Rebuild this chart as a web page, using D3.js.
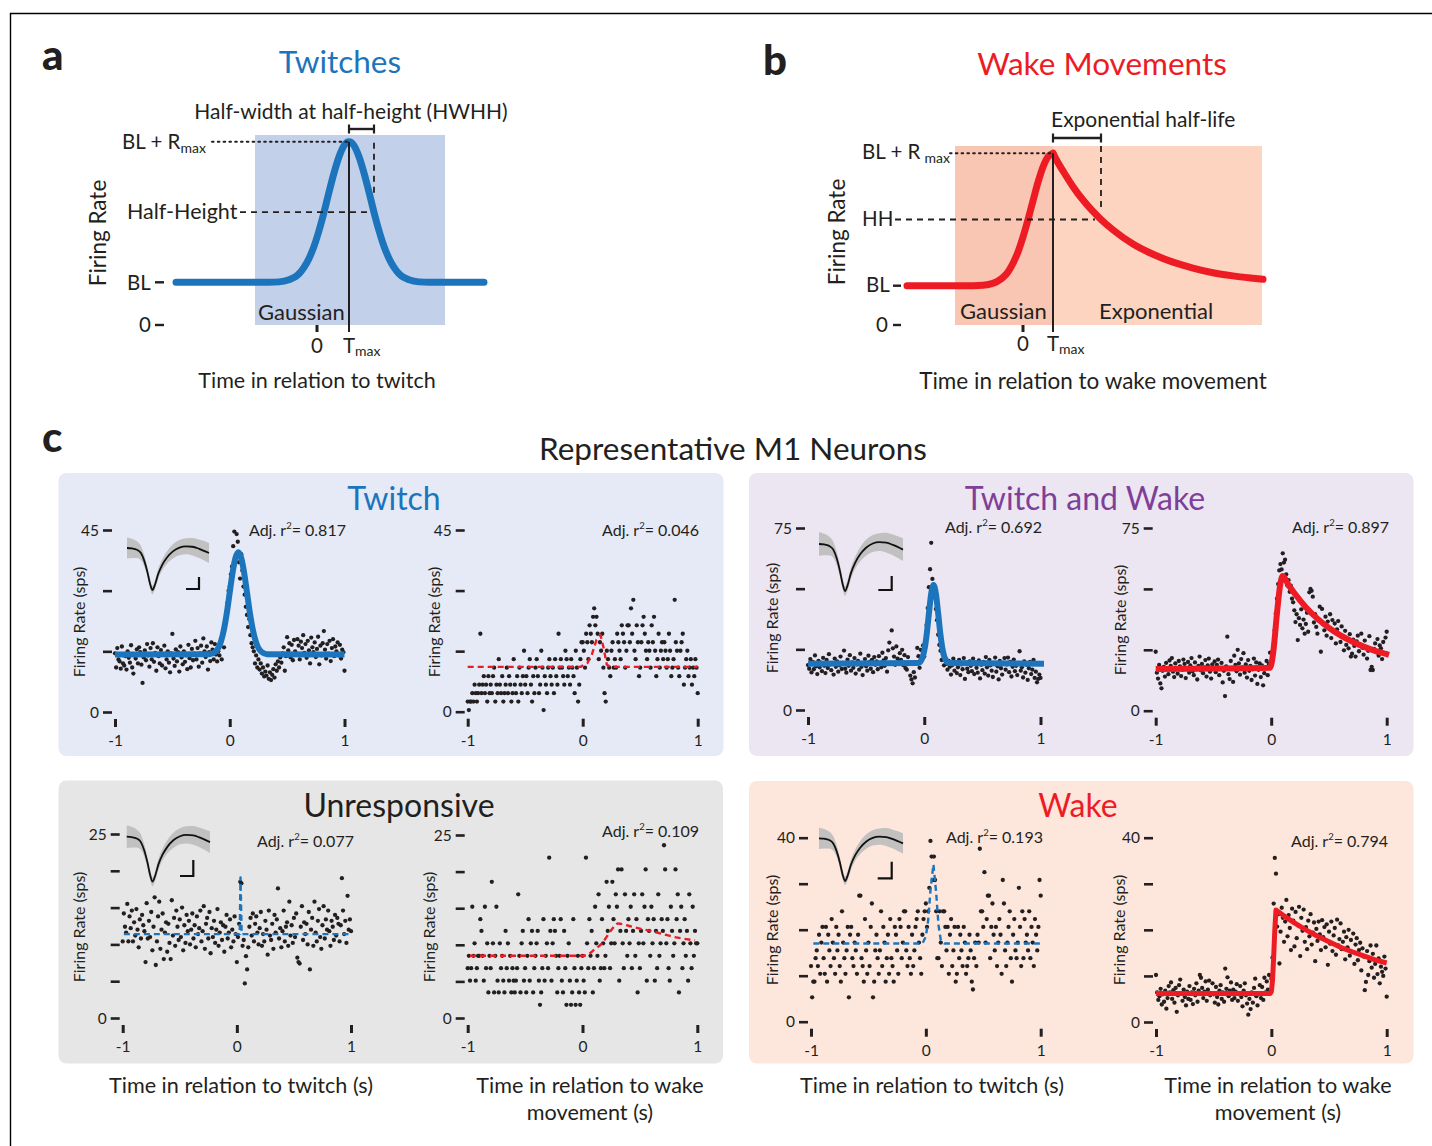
<!DOCTYPE html>
<html><head><meta charset="utf-8">
<script src="https://cdn.jsdelivr.net/npm/d3@7"></script>
<style>
body{margin:0;background:#fff}
svg text{font-family:Lato,"Open Sans",sans-serif}
</style></head>
<body><svg id="chart" width="1432" height="1146"></svg>
<script>
// ---------------- DATA ----------------
// Panel a schematic (Gaussian): time (a.u.) and rate (multiples of BL)
const twitchSchemeTime = [-1.41,-0.48,-0.38,-0.28,-0.23,-0.18,-0.13,-0.08,-0.03,0.02,0.07,0.12,0.17,0.22,0.27,0.32,0.37,0.42,0.47,0.52,0.57,0.62,0.67,0.72,0.77,0.82,0.87,0.92,1.02,1.12,1.67];
const twitchSchemeRate = [1.0,1.0,1.01,1.06,1.11,1.20,1.35,1.56,1.84,2.21,2.64,3.11,3.56,3.94,4.20,4.29,4.20,3.94,3.56,3.11,2.64,2.21,1.84,1.56,1.35,1.20,1.11,1.06,1.01,1.0,1.0];
const twitchSchemeLevels = {bl:1, peak:4.29, half:2.645, tmax:0.32, hwhhEnd:0.57, window:[-0.62,1.28], top:4.45};
// Panel b schematic (Gaussian rise + exponential decay)
const wakeRiseTime = [-1.16,-0.50,-0.40,-0.30,-0.25,-0.20,-0.15,-0.10,-0.05,0.00,0.05,0.10,0.15,0.20,0.25,0.30];
const wakeRiseRate = [1.0,1.0,1.01,1.06,1.12,1.21,1.35,1.57,1.86,2.24,2.68,3.16,3.63,4.02,4.28,4.37];
const wakeDecayTime = [0.30,0.35,0.40,0.50,0.60,0.70,0.78,0.90,1.10,1.30,1.50,1.70,1.90,2.10,2.30,2.40];
const wakeDecayRate = [4.37,4.13,3.92,3.52,3.18,2.89,2.685,2.42,2.06,1.80,1.60,1.45,1.33,1.25,1.19,1.163];
const wakeSchemeLevels = {bl:1, peak:4.37, half:2.685, tmax:0.30, halfLifeEnd:0.78, window:[-0.68,2.39], top:4.555};

// Panel c: 10-ms bins from -1 to 1 s
const binTimes = d3.range(201).map(i => -1 + i * 0.01);

const twitchTwitchRates = [
14.5,11,15.8,13,12.5,10.7,16.2,12,11.5,13.8,
10.5,15,13.4,12.2,16.5,11,9.5,14,13.2,15.5,
12,16,14.8,11.7,7.2,13.5,15.2,12.8,16.8,14,
11.2,15.8,13,17,12.4,14.6,10.2,16,13.8,12,
15.3,11.5,14.2,16.4,10.8,13,15,12.2,9.8,14.5,
19.3,13.2,11.4,15.5,12.5,14.8,10,16.2,13.5,11.8,
15,12.4,14,10.6,16.6,13.3,11,15.6,12.8,14.4,
17.6,13,15.8,11.2,14.5,16.4,12.2,18.2,15,13.6,
16.2,10.5,14.8,12.6,17.2,15.4,13,16.8,14.2,12.5,
15,14,17,13,19,16,22,24,27,30,
31,34,36,41,44.6,38,44,42.1,37,33,
39,35,31,29,26,24,21,23,19,17,
16,15,12,14,11,13,
10.5,12,9.5,11,8.8,10,9,11.5,8.2,9.8,
7.9,9.2,10.6,8.5,11.8,10.2,12.5,11,13.5,12.2,
14.5,16,10.2,13.8,18.5,15.2,17,13.5,16.6,12.8,
17.8,15,14.2,18,16.4,13,17.4,15.8,19,14.6,
16.8,13.4,17.6,15.2,12,18.4,16,14.8,17.2,13.6,
15.6,18.6,11.8,16.4,14,17,20,15.4,13.2,16.8,
14.4,17.6,12.6,15.8,18,13.8,16.2,15,17.2,14,
16.6,13.2,15.4,14.8,10.2];
const twitchWakeRates = [
2.5,0.4,2.5,2.5,4.6,2.5,6.7,4.6,2.5,4.6,
6.7,19.3,4.6,6.7,8.8,4.6,6.7,2.5,8.8,4.6,
6.7,4.6,8.8,10.9,2.5,6.7,4.6,13,6.7,4.6,
8.8,2.5,4.6,6.7,10.9,4.6,8.8,6.7,2.5,4.6,
13,6.7,4.6,8.8,2.5,10.9,6.7,4.6,8.8,15.1,
6.7,8.8,4.6,10.9,13,6.7,2.5,8.8,4.6,10.9,
13,8.8,4.6,6.7,15.1,10.9,0.4,8.8,6.7,4.6,
10.9,13,8.8,6.7,10.9,4.6,13,8.8,6.7,19.3,
10.9,13,10.9,8.8,6.7,15.1,13,8.8,10.9,6.7,
13,10.9,8.8,4.6,15.1,10.9,2.5,6.7,13,17.2,
17.2,15.1,10.9,19.3,17.2,13,21.4,19.3,17.2,23.5,
25.6,21.4,23.5,19.3,13,17.2,15.1,19.3,10.9,4.6,
2.5,15.1,13,10.9,8.8,15.1,17.2,10.9,13,10.9,
19.3,17.2,15.1,13,21.4,19.3,17.2,10.9,15.1,21.4,
21.4,17.2,25.6,19.3,27.7,15.1,13,21.4,17.2,8.8,
10.9,17.2,21.4,23.5,19.3,15.1,13,17.2,15.1,10.9,
21.4,17.2,23.5,15.1,8.8,13,19.3,10.9,15.1,17.2,
13,17.2,15.1,10.9,13,19.3,15.1,8.8,10.9,13,
27.7,17.2,15.1,10.9,8.8,15.1,17.2,19.3,6.7,10.9,
13,15.1,8.8,10.9,13,6.7,10.9,8.8,13,10.9,
4.6];
const bothTwitchRates = [
18.5,17,21,15.5,19.8,16.8,22.5,18,14.8,20.2,
17.6,19.5,16,21.5,18.2,15.2,20.6,17.3,23,18.8,
16.4,19,14.6,21.2,17.8,20,15.8,18.4,22,16.9,
19.4,24.5,17,15.4,20.8,18.2,22.6,16.2,19.6,17.4,
21.4,15,18.8,20.2,16.6,23.2,17.8,14.4,19.2,21,
18,16.2,22.4,19.8,17,20.6,15.6,21.8,18.6,20,
16.8,22.2,19,17.6,23.6,20.4,18.2,21.4,15.8,24.6,
27.8,19.4,32.8,25.4,22,18.6,26.2,21.2,19.8,23.4,
20.6,24.8,18.4,22.6,17.2,16.6,21.8,19,14.2,12.6,
11,15.6,13.4,19.6,25.6,22.2,17.4,24.8,21,26.6,
22,28.4,35,42,50.6,58,68.9,54,49.6,46.4,
41.6,37,31,26.8,24.4,20.6,22.8,18.4,21.6,19,
16.6,20.2,17.8,14.6,18.4,21.2,16.2,19.8,15.2,17.6,
20.6,14.4,18.8,16.8,21.4,12.8,19.4,17,15.6,20,
18.2,16,21.2,14.8,19.6,17.4,15.4,20.4,13,18.6,
16.4,19.8,15,21.8,17.6,14.2,20.6,18.4,16.2,13.6,
19.2,21.6,15.8,18,12.6,20.2,17.2,14.6,19.4,21.4,
16.6,18.8,21.6,15.6,19.8,13.8,17.8,20.8,16,18.2,
14.4,19.4,24.2,16.2,17.6,13.4,20,15.4,18.6,12.4,
17.2,19.8,14.8,16.6,20.6,13.2,15.8,11.4,12.8,14.6,
13.2];
const bothWakeRates = [
24.2,15.6,13.2,18.8,11.2,9.2,16.4,18,14,19.6,
17.2,15,20.6,18.4,21.6,16,13.8,19.4,17.6,15.2,
20.4,18.2,14.2,16.8,21,19.2,13.4,17.4,20,15.6,
18.6,21.6,16.2,14.6,19.8,17,12.8,18.4,22.2,16.6,
19.2,15.4,17.8,20.8,14,18.6,21.4,16,13.2,19,
17.4,20.2,15.8,18.8,21,14.6,17.2,19.6,11.6,16.4,
6,18.2,30.4,15,13,20.4,17.6,11.8,22.6,18.8,
16.2,25,19.4,14.8,21.2,17.8,23.6,15.6,19,13.6,
20.8,16.4,18.4,12.6,17,21.4,14.4,19.8,11,16.8,
19.4,13.8,18.6,10.4,15.4,17.6,20.4,14.6,19.2,23.8,
18,21,27,33,40,46,52,57.6,60.2,58,
64.6,60.8,62,56,51.4,53.6,48.8,51.3,46,44.5,
41.2,36.4,39.6,29,38,35.2,41.6,33.8,37.4,31.6,
35.6,40.2,32.4,48.6,50,49.2,46.8,36.2,39.6,34.4,
31.6,37,42.7,24.2,41.8,35.4,33,38.6,30.8,36.6,
34,39.6,29.8,37.2,32.6,35.8,27.6,33.4,36.8,31.2,
28.2,34.6,30.6,24.8,32.8,27,29.6,25.6,31.4,22.2,
23.4,29.2,26.6,22.2,28.4,30.8,24.4,27.2,31.6,25.8,
23,28.8,26,21.4,24.6,30.6,16.7,18,16.7,25.4,
27.6,24,29.4,22.6,26.8,25.6,21.2,28.2,23.6,30,
32.4];
const unrespTwitchRates = [
10.4,14.2,12.4,11.6,15.5,10.4,13.8,12.2,14.6,10.4,
13,11.2,14.8,12,9.6,13.4,10.8,14,12.6,11.8,
7.6,15.6,10.8,13.2,11,14.4,9.2,12.4,16.4,7.2,
10.4,13.8,15.8,9.4,12,14.2,8,11.6,13,9,
12.8,10.2,8,16,11.2,13.6,9.8,14.6,12.4,10.6,
13.4,11,15,9.2,12.6,10.2,14,11.8,13.2,10,
12,14.2,10.8,12.6,9.6,13.8,11.4,12.2,14.6,10.4,
11.8,15.2,9.4,12.8,13.6,10.8,14.4,8.8,12.2,11,
13.2,10.2,12,14.8,9.8,11.6,13,10.6,12.6,9,
12.4,14,10.8,11.6,13.4,9.6,12,10.4,13.8,11.4,
7.6,11,12.8,18.5,18.3,9.8,10.6,4.7,8.4,6.6,
9.6,12.4,13.6,11.2,14.2,10.4,12.8,13.8,11.6,10,
12.2,14.4,9.8,11.4,10.4,13.2,12,8.6,14.6,11.2,
10.6,12.8,9.4,14,11.6,13.4,17.6,10.8,12.2,9.6,
11.8,14.6,10.4,12.4,13,9.8,15.8,11.2,12.6,10.2,
13.6,11,14.2,8.2,7.6,7.4,12.4,15.2,10.6,13,
11.4,12.8,10,14.4,6.6,12,13.6,9.8,15.8,11.6,
10.4,13.2,14.8,11,9.4,12.6,15.2,10.8,13.4,12,
14.6,11.8,9.8,13.2,12.4,10.6,14,11.2,13.6,12.8,
10.4,12.6,19,14.6,11.4,13.2,10.2,16.6,12,13.4,
11.8];
const unrespWakeRates = [
6.8,8.5,5.1,6.8,15.2,8.5,10.2,5.1,6.8,8.5,
8.5,13.5,11.9,8.5,5.1,15.2,6.8,10.2,3.5,8.5,
6.8,18.6,10.2,3.5,8.5,15.2,5.1,3.5,10.2,6.8,
8.5,5.1,3.5,11.9,6.8,10.2,5.1,8.5,3.5,6.8,
5.1,3.5,5.1,6.8,16.9,8.5,3.5,10.2,11.9,5.1,
6.8,3.5,8.5,13.5,5.1,10.2,11.9,3.5,6.8,8.5,
10.2,11.9,5.1,1.8,3.5,6.8,13.5,5.1,8.5,10.2,
6.8,21.9,11.9,5.1,10.2,13.5,11.9,8.5,3.5,6.8,
8.5,13.5,5.1,3.5,11.9,6.8,1.8,8.5,10.2,5.1,
1.8,3.5,13.5,6.8,1.8,5.1,8.5,3.5,1.8,6.8,
8.5,5.1,3.5,21.9,10.2,6.8,13.5,8.5,11.9,3.5,
6.8,15.2,10.2,8.5,16.9,5.1,6.8,13.5,10.2,6.8,
8.5,18.6,11.9,15.2,6.8,10.2,18.6,13.5,10.2,16.9,
15.2,20.3,5.1,11.9,20.3,10.2,6.8,16.9,11.9,8.5,
13.5,10.2,15.2,6.8,11.9,16.9,8.5,13.5,3.5,10.2,
6.8,11.9,16.9,10.2,15.2,20.3,5.1,13.5,11.9,8.5,
15.2,10.2,13.5,5.1,11.9,6.8,16.9,8.5,10.2,13.5,
11.9,23.6,20.3,10.2,13.5,6.8,5.1,15.2,11.9,8.5,
10.2,20.3,13.5,16.9,3.5,11.9,15.2,6.8,10.2,13.5,
8.5,11.9,5.1,16.9,10.2,6.8,15.2,8.5,11.9,10.2,
10.2];
const wakeTwitchRates = [
12.1,5.3,8.7,8.7,13.8,15.5,12.1,18.9,10.4,17.2,
20.6,13.8,10.4,20.6,8.7,18.9,15.5,12.1,22.3,17.2,
13.8,10.4,20.6,15.5,18.9,12.1,8.7,24,17.2,13.8,
10.4,15.5,20.6,5.3,18.9,20.6,13.8,12.1,17.2,15.5,
10.4,18.9,27.4,27.4,13.8,12.1,8.7,22.3,15.5,10.4,
17.2,12.1,20.6,25.7,5.3,8.7,15.5,18.9,13.8,10.4,
15.5,24,12.1,20.6,17.2,8.7,13.8,18.9,10.4,22.3,
13.8,12.1,8.7,20.6,18.9,15.5,10.4,22.3,20.6,13.8,
17.2,24,24,15.5,12.1,20.6,13.8,10.4,18.9,12.1,
15.5,20.6,22.3,24,17.2,13.8,10.4,18.9,22.3,24,
25.7,20.6,24,29.1,39.3,35.9,30.8,35.9,30.8,24,
13.8,13.8,24,17.2,12.1,24,24,20.6,15.5,20.6,
10.4,18.9,22.3,12.1,15.5,20.6,8.7,10.4,20.6,13.8,
18.9,15.5,12.1,20.6,17.2,10.4,12.1,13.8,18.9,15.5,
8.7,7,13.8,17.2,12.1,18.9,17.2,37.6,24,24,
20.6,32.5,17.2,22.3,27.4,27.4,13.8,20.6,25.7,18.9,
15.5,20.6,12.1,17.2,22.3,18.9,10.4,30.8,25.7,15.5,
12.1,17.2,20.6,24,13.8,8.7,18.9,22.3,15.5,13.8,
17.2,29.1,20.6,12.1,24,13.8,22.3,17.2,18.9,15.5,
24,13.8,20.6,17.2,12.1,22.3,18.9,15.5,20.6,30.8,
27.4];
const wakeWakeRates = [
10.2,6.4,4.8,5.6,7.2,3.8,6,4.4,6.8,2.9,
5.2,7.8,6.4,8.6,5,6.9,4.2,7.4,2.2,5.8,
8,9.2,6.2,4.6,7,5.4,3.6,6.6,5,7.8,
4.8,6.4,3.9,7.2,5.8,8.4,4.4,6.8,10.2,9.6,
7.4,5.2,6.6,8.8,4.6,7,9,5.8,6.2,8.4,
6,4.2,7.6,5.4,3.8,6.8,8,5,6.4,4.4,
11.6,7.2,9.7,5.6,6.8,8.6,4.8,7,5.2,6.6,
8.2,4.6,6,7.8,5.4,3.4,6.8,8.4,5.8,4,
1.6,5,2.8,6.4,4.2,7.4,9.4,5.6,3.6,6.2,
8,5.2,7.6,4.8,9.6,6.4,8.8,7,10.2,6.8,
9.4,14,25.7,35.6,32.2,20.7,23.4,12.7,19.6,24.8,
22.6,17.4,21.8,26.5,18.6,23.2,20.4,15.6,24.6,22,
16.4,23.9,18.2,21,25,14.3,22.6,19.8,24.4,17.4,
20.6,15.8,22,18.6,23.4,16.8,19.4,21.6,13.2,20.2,
17.6,21.8,19,15.6,22.1,18.4,20.6,16.2,21.2,12.4,
19.6,17,21.8,15.4,18.8,20.4,14.6,22.2,16.6,18,
21.4,15.8,17.4,19.6,13.6,18.4,16.2,20,14.4,17.8,
15.2,19.2,12.6,16.8,18.2,13.4,15.6,17.2,11.2,16,
14.2,6.9,8.7,15.4,10.2,13.2,16.6,11.8,14.8,9.6,
12.6,16.6,10.4,13.8,8.4,12,10.9,10,14.2,11.6,
5.5];

// fitted curves (time s, rate sps)
const twitchTwitchFitT = [-1,-0.175,-0.125,-0.075,-0.05,-0.025,0,0.025,0.05,0.075,0.1,0.125,0.15,0.175,0.2,0.225,0.275,0.325,1];
const twitchTwitchFitR = [14.2,14.3,14.9,17.6,20.5,24.6,29.6,34.5,38.1,39.5,38.1,34.5,29.6,24.6,20.5,17.6,14.9,14.3,14.2];
const twitchWakeFitT = [-1,-0.02,0.04,0.08,0.12,0.155,0.18,0.21,0.25,1];
const twitchWakeFitR = [11.1,11.1,12,14.2,17.8,19,16,11.6,11.1,11.1];
const bothTwitchFitT = [-1,-0.05,-0.02,0,0.02,0.04,0.06,0.08,0.1,0.12,0.14,0.16,0.18,0.21,1.03];
const bothTwitchFitR = [19.1,19.4,21.0,24.4,30.8,39.7,48.0,51.5,48.0,39.7,30.8,24.4,21.0,19.4,19.1];
const bothWakeFitT = [-1,-0.01,0.02,0.05,0.08,0.1,0.15,0.2,0.3,0.4,0.5,0.6,0.7,0.8,0.9,1.0,1.02];
const bothWakeFitR = [17.1,17.6,24.9,40,52.3,55.3,51.6,48.3,42.5,37.8,34.0,30.9,28.4,26.3,24.6,23.2,22.9];
const unrespTwitchFitT = [-0.99,0.025,0.032,0.042,0.99];
const unrespTwitchFitR = [11.4,11.4,19.1,11.4,11.4];
const unrespWakeFitT = [-0.98,0,0.05,0.1,0.17,0.25,0.31,0.4,0.5,0.62,0.79,0.98];
const unrespWakeFitR = [8.5,8.5,8.7,9.3,10.2,12.0,12.9,12.6,12.2,11.8,11.1,10.6];
const wakeTwitchFitT = [-0.98,-0.03,0,0.02,0.04,0.066,0.09,0.11,0.13,0.16,1.0];
const wakeTwitchFitR = [17,17,18.5,22,28.5,34.2,28,21,17.8,17,17];
const wakeWakeFitT = [-1,-0.01,0,0.01,0.02,0.03,0.04,0.1,0.2,0.3,0.4,0.5,0.6,0.7,0.8,0.9,1.0];
const wakeWakeFitR = [6.2,6.2,6.6,9,14,20,24.3,23.2,21.5,20.0,18.6,17.4,16.2,15.25,14.35,13.5,12.8];

const adjR2 = ["0.817","0.046","0.692","0.897","0.077","0.109","0.193","0.794"];
const yTicks45 = [0,15,30,45], yTicks75 = [0,25,50,75], yTicks25 = [0,5,10,15,20,25], yTicks40 = [0,10,20,30,40];
const xTicks = [-1,0,1];

// mean spike waveform (normalised) with SD band
const waveU = [0,0.06,0.12,0.17,0.21,0.25,0.28,0.31,0.34,0.38,0.43,0.49,0.56,0.64,0.72,0.8,0.88,1.0];
const waveMean = [0,-0.01,-0.04,-0.12,-0.3,-0.58,-0.84,-1.0,-0.88,-0.62,-0.4,-0.22,-0.08,0.01,0.04,0.03,-0.02,-0.12];
const waveSd = [0.25,0.23,0.2,0.17,0.14,0.12,0.11,0.1,0.11,0.12,0.13,0.15,0.17,0.18,0.19,0.21,0.22,0.24];

// ---------------- DRAWING ----------------
const INK="#231f20", BLUE="#1c75bc", RED="#ed1c24", PURPLE="#7f3f98";
const svg = d3.select("#chart");

function txt(x,y,s,o={}){
  const t = svg.append("text").attr("x",x).attr("y",y)
    .attr("font-size",o.size||20).attr("text-anchor",o.anchor||"start")
    .attr("fill",o.color||INK).text(s);
  if(o.weight) t.attr("font-weight",o.weight);
  if(o.rot) t.attr("transform",`rotate(-90,${x},${y})`);
  return t;
}
function seg(x1,y1,x2,y2,o={}){
  return svg.append("line").attr("x1",x1).attr("y1",y1).attr("x2",x2).attr("y2",y2)
    .attr("stroke",o.color||INK).attr("stroke-width",o.w||2)
    .attr("stroke-dasharray",o.dash||null).attr("stroke-linecap",o.cap||"butt");
}

// frame
svg.append("path").attr("d","M10.5,1146 V13.5 H1432").attr("fill","none").attr("stroke","#000").attr("stroke-width",1.4);

// ---- panel a ----
{
  const L = twitchSchemeLevels;
  const x = d3.scaleLinear().domain([-1.41,1.67]).range([176,484]);
  const y = d3.scaleLinear().domain([0,L.top]).range([325,135]);
  txt(42,70,"a",{size:42,weight:900});
  txt(340,73,"Twitches",{size:31.5,anchor:"middle",color:BLUE});
  svg.append("rect").attr("x",x(L.window[0])).attr("y",y(L.top))
    .attr("width",x(L.window[1])-x(L.window[0])).attr("height",y(0)-y(L.top)).attr("fill","#c3d0ea");
  const line = d3.line().x((d,i)=>x(twitchSchemeTime[i])).y((d,i)=>y(twitchSchemeRate[i])).curve(d3.curveMonotoneX);
  svg.append("path").attr("d",line(twitchSchemeTime)).attr("fill","none").attr("stroke",BLUE)
    .attr("stroke-width",7).attr("stroke-linecap","round");
  // guides
  seg(212,y(L.peak),x(L.tmax),y(L.peak),{w:2,dash:"1.6,4.2",cap:"round"});
  seg(240,y(L.half),x(L.hwhhEnd)-6,y(L.half),{w:1.8,dash:"6,5"});
  seg(x(L.hwhhEnd),y(L.peak)+1,x(L.hwhhEnd),y(3.1),{w:1.8,dash:"6,5"});
  seg(x(L.tmax),y(L.peak),x(L.tmax),332,{w:2});
  seg(x(0),325,x(0),332,{w:3});
  // HWHH bracket
  seg(x(L.tmax),129,x(L.hwhhEnd),129,{w:2.4});
  seg(x(L.tmax),124.5,x(L.tmax),133.5,{w:2.2});
  seg(x(L.hwhhEnd),124.5,x(L.hwhhEnd),133.5,{w:2.2});
  txt(351,119,"Half-width at half-height (HWHH)",{size:21,anchor:"middle"});
  const t1 = txt(122,149,"BL + R",{size:20.5}); t1.append("tspan").attr("font-size",14).attr("dy",4).text("max");
  txt(127,219,"Half-Height",{size:21.5});
  txt(127,290,"BL",{size:20.5}); seg(155,y(L.bl),164,y(L.bl),{w:2.4});
  txt(139,332,"0",{size:20.5}); seg(155,y(0),164,y(0),{w:2.4});
  txt(106,233,"Firing Rate",{size:22.5,anchor:"middle",rot:true});
  txt(258,320,"Gaussian",{size:22});
  txt(x(0),353,"0",{size:20.5,anchor:"middle"});
  const t2 = txt(343,353,"T",{size:20.5}); t2.append("tspan").attr("font-size",14).attr("dy",3).text("max");
  txt(317,388,"Time in relation to twitch",{size:21.5,anchor:"middle"});
}

// ---- panel b ----
{
  const L = wakeSchemeLevels;
  const x = d3.scaleLinear().domain([-1.16,2.40]).range([907,1263]);
  const y = d3.scaleLinear().domain([0,L.top]).range([325,146]);
  txt(763,75,"b",{size:42,weight:900});
  txt(1102,75,"Wake Movements",{size:31.5,anchor:"middle",color:RED});
  svg.append("rect").attr("x",x(L.window[0])).attr("y",y(L.top))
    .attr("width",x(L.tmax)-x(L.window[0])).attr("height",y(0)-y(L.top)).attr("fill","#f8c6b2");
  svg.append("rect").attr("x",x(L.tmax)).attr("y",y(L.top))
    .attr("width",x(L.window[1])-x(L.tmax)).attr("height",y(0)-y(L.top)).attr("fill","#fcd4c0");
  const rise = d3.line().x((d,i)=>x(wakeRiseTime[i])).y((d,i)=>y(wakeRiseRate[i])).curve(d3.curveMonotoneX);
  const decay = d3.line().x((d,i)=>x(wakeDecayTime[i])).y((d,i)=>y(wakeDecayRate[i])).curve(d3.curveMonotoneX);
  [rise(wakeRiseTime),decay(wakeDecayTime)].forEach(d=>svg.append("path").attr("d",d).attr("fill","none")
    .attr("stroke",RED).attr("stroke-width",7).attr("stroke-linecap","round").attr("stroke-linejoin","round"));
  seg(950,y(L.peak),x(L.tmax),y(L.peak),{w:2,dash:"1.6,4.2",cap:"round"});
  seg(895,y(L.half),x(L.halfLifeEnd)-6,y(L.half),{w:1.8,dash:"6,5"});
  seg(x(L.halfLifeEnd),y(L.top),x(L.halfLifeEnd),y(3.0),{w:1.8,dash:"6,5"});
  seg(x(L.tmax),y(L.peak),x(L.tmax),332,{w:2});
  seg(x(0),325,x(0),332,{w:3});
  seg(x(L.tmax),138,x(L.halfLifeEnd),138,{w:2.4});
  seg(x(L.tmax),133.5,x(L.tmax),142.5,{w:2.2});
  seg(x(L.halfLifeEnd),133.5,x(L.halfLifeEnd),142.5,{w:2.2});
  txt(1051,127,"Exponential half-life",{size:21});
  const t1 = txt(862,159,"BL + R",{size:20.5}); t1.append("tspan").attr("font-size",14).attr("dx",4).attr("dy",4).text("max");
  txt(862,226,"HH",{size:20.5});
  txt(866,292,"BL",{size:20.5}); seg(893,y(L.bl),901,y(L.bl),{w:2.4});
  txt(876,332,"0",{size:20.5}); seg(893,y(0),901,y(0),{w:2.4});
  txt(845,232,"Firing Rate",{size:22.5,anchor:"middle",rot:true});
  txt(960,319,"Gaussian",{size:22});
  txt(1099,319,"Exponential",{size:22});
  txt(x(0),351,"0",{size:20.5,anchor:"middle"});
  const t2 = txt(1047,351,"T",{size:20.5}); t2.append("tspan").attr("font-size",14).attr("dy",3).text("max");
  txt(1093,389,"Time in relation to wake movement",{size:22.5,anchor:"middle"});
}

// ---- panel c ----
txt(42,452,"c",{size:42,weight:900});
txt(733,460,"Representative M1 Neurons",{size:31.5,anchor:"middle"});

const boxes = [
  {x:58.5,y:473,w:665,h:283,fill:"#e6eaf6",title:"Twitch",color:BLUE,tx:394,ty:510},
  {x:749,y:473,w:664.5,h:283,fill:"#ebe6f2",title:"Twitch and Wake",color:PURPLE,tx:1085,ty:510},
  {x:58.5,y:780.5,w:664.5,h:283,fill:"#e6e6e6",title:"Unresponsive",color:INK,tx:399,ty:817},
  {x:749,y:781,w:664.5,h:282.5,fill:"#fde6dc",title:"Wake",color:RED,tx:1078,ty:817}
];
boxes.forEach(b=>{
  svg.append("rect").attr("x",b.x).attr("y",b.y).attr("width",b.w).attr("height",b.h).attr("rx",8).attr("fill",b.fill);
  txt(b.tx,b.ty,b.title,{size:32,anchor:"middle",color:b.color});
});

const peths = [
  {rates:twitchTwitchRates, ft:twitchTwitchFitT, fr:twitchTwitchFitR, fc:BLUE, fw:6, dash:null, curve:d3.curveMonotoneX,
   x0:115,x1:344.5,y0:712,y1:530,ymax:45,ticks:yTicks45,yl:[80,622],r2:[249,536,"start"],
   inset:{x:127,y:548,w:82,d:42,bar:[199,577,589,186]}},
  {rates:twitchWakeRates, ft:twitchWakeFitT, fr:twitchWakeFitR, fc:RED, fw:2.4, dash:"6,4", curve:d3.curveLinear,
   x0:467.7,x1:697.7,y0:711.7,y1:530,ymax:45,ticks:yTicks45,yl:[435,622],r2:[699,536,"end"]},
  {rates:bothTwitchRates, ft:bothTwitchFitT, fr:bothTwitchFitR, fc:BLUE, fw:6, dash:null, curve:d3.curveMonotoneX,
   x0:808,x1:1040.5,y0:710,y1:528,ymax:75,ticks:yTicks75,yl:[773,618],r2:[945,533,"start"],
   inset:{x:819,y:544,w:84,d:47,bar:[891.7,576,590,878.3]}},
  {rates:bothWakeRates, ft:bothWakeFitT, fr:bothWakeFitR, fc:RED, fw:6, dash:null, curve:d3.curveMonotoneX,
   x0:1155.7,x1:1386.7,y0:710.7,y1:528,ymax:75,ticks:yTicks75,yl:[1121,620],r2:[1389,533,"end"]},
  {rates:unrespTwitchRates, ft:unrespTwitchFitT, fr:unrespTwitchFitR, fc:BLUE, fw:2.4, dash:"6,4", curve:d3.curveLinear,
   x0:122.7,x1:351,y0:1018,y1:834,ymax:25,ticks:yTicks25,yl:[80,927],r2:[257,847,"start"],
   inset:{x:126.7,y:836.7,w:83.3,d:45,bar:[193.3,860,876,180]}},
  {rates:unrespWakeRates, ft:unrespWakeFitT, fr:unrespWakeFitR, fc:RED, fw:2.4, dash:"6,4", curve:d3.curveMonotoneX,
   x0:467.7,x1:697.3,y0:1018,y1:835,ymax:25,ticks:yTicks25,yl:[430,927],r2:[699,837,"end"]},
  {rates:wakeTwitchRates, ft:wakeTwitchFitT, fr:wakeTwitchFitR, fc:BLUE, fw:2.4, dash:"6,4", curve:d3.curveLinear,
   x0:811,x1:1040.7,y0:1021.7,y1:837.7,ymax:40,ticks:yTicks40,yl:[773,930],r2:[946,843,"start"],
   inset:{x:819,y:838.3,w:84,d:42.7,bar:[891.7,861.7,878.3,877.7]}},
  {rates:wakeWakeRates, ft:wakeWakeFitT, fr:wakeWakeFitR, fc:RED, fw:5, dash:null, curve:d3.curveLinear,
   x0:1156,x1:1386.7,y0:1022,y1:837.7,ymax:40,ticks:yTicks40,yl:[1120,930],r2:[1388,847,"end"]}
];

peths.forEach((p,idx)=>{
  const x = d3.scaleLinear().domain([-1,1]).range([p.x0,p.x1]);
  const y = d3.scaleLinear().domain([0,p.ymax]).range([p.y0,p.y1]);
  const g = svg.append("g");
  // y axis
  const ya = d3.axisLeft(y).tickValues(p.ticks).tickSize(9).tickPadding(4)
    .tickFormat(d => (d===0||d===p.ymax) ? String(d) : "");
  const yg = g.append("g").attr("transform",`translate(${p.x0-3},0)`).call(ya);
  yg.select(".domain").remove();
  yg.selectAll("line").attr("stroke",INK).attr("stroke-width",2.6);
  yg.selectAll("text").attr("font-size",15.5).attr("fill",INK).attr("font-family","Lato").attr("dy","0.34em");
  // x axis
  const xa = d3.axisBottom(x).tickValues(xTicks).tickSize(8).tickPadding(8).tickFormat(d=>String(d));
  const xg = g.append("g").attr("transform",`translate(0,${p.y0+7})`).call(xa);
  xg.select(".domain").remove();
  xg.selectAll("line").attr("stroke",INK).attr("stroke-width",3);
  xg.selectAll("text").attr("font-size",15.5).attr("fill",INK).attr("font-family","Lato");
  // y label
  txt(p.yl[0]+5,p.yl[1],"Firing Rate (sps)",{size:16,anchor:"middle",rot:true});
  // inset waveform
  if(p.inset){
    const I = p.inset;
    const wx = d3.scaleLinear().domain([0,1]).range([I.x,I.x+I.w]);
    const wy = d3.scaleLinear().domain([0,-1]).range([I.y,I.y+I.d]);
    const band = d3.area().x((d,i)=>wx(waveU[i])).y0((d,i)=>wy(waveMean[i]-waveSd[i])).y1((d,i)=>wy(waveMean[i]+waveSd[i])).curve(d3.curveMonotoneX);
    g.append("path").attr("d",band(waveU)).attr("fill","#bcbcbc").attr("opacity",0.9);
    const wl = d3.line().x((d,i)=>wx(waveU[i])).y((d,i)=>wy(waveMean[i])).curve(d3.curveMonotoneX);
    g.append("path").attr("d",wl(waveU)).attr("fill","none").attr("stroke","#111").attr("stroke-width",1.8);
    const b = I.bar;
    g.append("path").attr("d",`M${b[3]},${b[2]} H${b[0]} V${b[1]}`).attr("fill","none").attr("stroke","#111").attr("stroke-width",2.2);
  }
  // dots
  g.selectAll("circle.d").data(p.rates).join("circle").attr("class","d")
    .attr("cx",(d,i)=>x(binTimes[i])).attr("cy",d=>y(d)).attr("r",2.15).attr("fill",INK);
  // fit
  const fl = d3.line().x((d,i)=>x(p.ft[i])).y((d,i)=>y(p.fr[i])).curve(p.curve);
  g.append("path").attr("d",fl(p.ft)).attr("fill","none").attr("stroke",p.fc)
    .attr("stroke-width",p.fw).attr("stroke-dasharray",p.dash).attr("stroke-linejoin","round");
  // adj r2
  const t = txt(p.r2[0],p.r2[1],"Adj. r",{size:16,anchor:p.r2[2]});
  t.append("tspan").attr("font-size",9.5).attr("dy",-7).text("2");
  t.append("tspan").attr("dy",7).text("= "+adjR2[idx]);
});

// bottom axis titles
[241,932].forEach(cx=>txt(cx,1093,"Time in relation to twitch (s)",{size:21.6,anchor:"middle"}));
[590,1278].forEach(cx=>{
  txt(cx,1093,"Time in relation to wake",{size:21.6,anchor:"middle"});
  txt(cx,1120,"movement (s)",{size:21.6,anchor:"middle"});
});
</script></body></html>
